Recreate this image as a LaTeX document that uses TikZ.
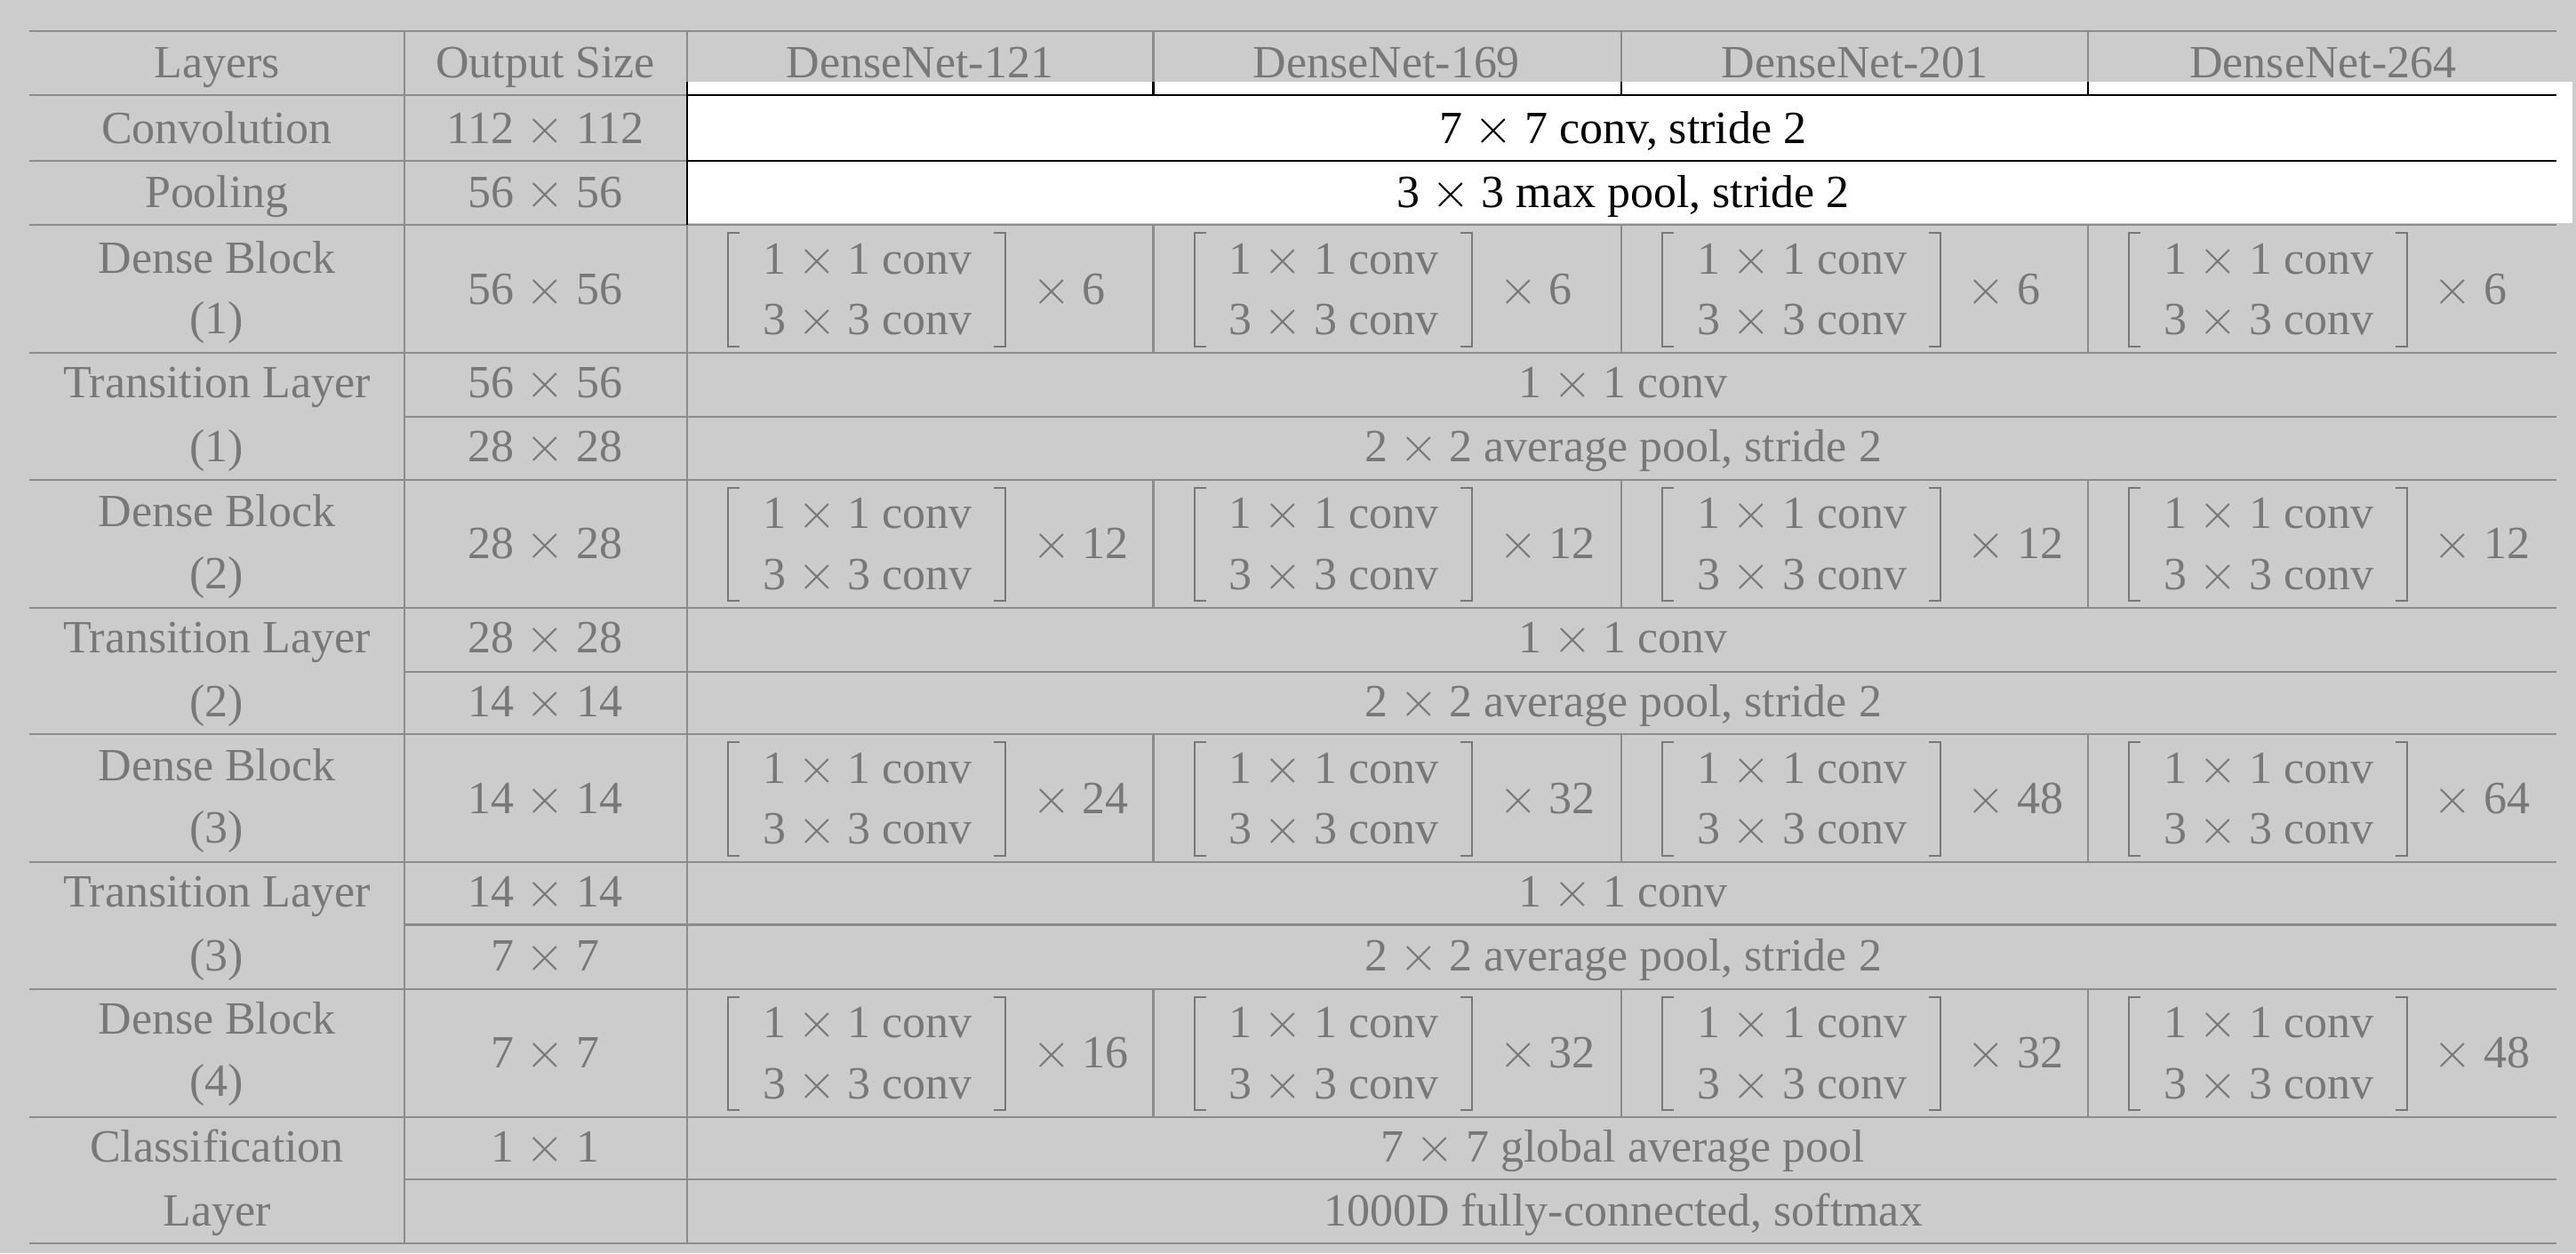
\documentclass[tikz,border=0pt]{standalone}
\usepackage{fontspec}
\setmainfont{Liberation Serif}
\definecolor{bggray}{RGB}{204,204,204}
\definecolor{txtgray}{RGB}{120,120,120}
\definecolor{rulegray}{RGB}{140,140,140}
\newcommand{\tms}{$\times$}

\begin{document}
\begin{tikzpicture}[x=0.02cm,y=-0.02cm]
  \tikzstyle{cell}=[inner sep=0pt,text=txtgray,text height=10.6pt,text depth=0pt,font=\fontsize{16pt}{19pt}\selectfont]
  \tikzstyle{wcell}=[cell,text=black]
  \tikzstyle{rule}=[draw=rulegray,line width=0.65pt]
  \tikzstyle{darkrule}=[draw=black,line width=0.65pt]
  \tikzstyle{brk}=[draw=txtgray,line width=0.6pt]

  \fill[bggray] (0,0) rectangle (1568,763);
  \useasboundingbox (0,0) rectangle (1568,763);
  \fill[white] (418,50) rectangle (1566,136); % white block

  % rules
  \foreach \y in {19,58,98,137,215,292,370,447,525,602,680,757}
    \draw[rule] (18,\y) -- (1556,\y);
  \foreach \y in {254,409,563,718}
    \draw[rule] (246,\y) -- (1556,\y);
  \foreach \x in {246,418}
    \draw[rule] (\x,19) -- (\x,757);
  \foreach \x in {702,987,1271} {
    \draw[rule] (\x,19) -- (\x,50);
    \foreach \ya/\yb in {137/215,292/370,447/525,602/680}
      \draw[rule] (\x,\ya) -- (\x,\yb);
  }
  \draw[darkrule] (418,58) -- (1556,58);
  \draw[darkrule] (418,98) -- (1556,98);
  \draw[darkrule] (418,50) -- (418,137);
  \foreach \x in {702,987,1271}
    \draw[darkrule] (\x,50) -- (\x,58);

  % header
  \node[cell] (hlay) at (132,38) {Layers};
  \node[cell] (hout) at (332,38) {Output Size};
  \foreach \n/\x in {121/560,169/844,201/1129,264/1414}
    \node[cell] (h\n) at (\x,38) {DenseNet-\n};

  % layers column
  \node[cell] (lconv) at (132,78) {Convolution};
  \node[cell] (lpool) at (132,117) {Pooling};
  \foreach \i/\ya/\yb in {1/157/194,2/311/349,3/466/504,4/620/658} {
    \node[cell] (ldb\i) at (132,\ya) {Dense Block};
    \node[cell] (ldb\i n) at (132,\yb) {(\i)};
  }
  \foreach \i/\ya/\yb in {1/233/272,2/388/427,3/543/582} {
    \node[cell] (ltr\i) at (132,\ya) {Transition Layer};
    \node[cell] (ltr\i n) at (132,\yb) {(\i)};
  }
  \node[cell] (lcls) at (132,698) {Classification};
  \node[cell] (lclsb) at (132,737) {Layer};

  % output size column
  \foreach \s/\y [count=\k] in {112/78,56/117,56/176,56/233,28/272,28/331,28/388,14/427,14/486,14/543,7/582,7/641,1/698}
    \node[cell] (out\k) at (332,\y) {\s{} \tms{} \s};

  % rows spanning all four nets
  \node[wcell] (conv) at (988,78) {7 \tms{} 7 conv, stride 2};
  \node[wcell] (pool) at (988,117) {3 \tms{} 3 max pool, stride 2};
  \foreach \i/\ya/\yb in {1/233/272,2/388/427,3/543/582} {
    \node[cell] (tr\i a) at (988,\ya) {1 \tms{} 1 conv};
    \node[cell] (tr\i b) at (988,\yb) {2 \tms{} 2 average pool, stride 2};
  }
  \node[cell] (clsa) at (988,698) {7 \tms{} 7 global average pool};
  \node[cell] (clsb) at (988,737) {1000D fully-connected, softmax};

  % dense blocks
  \foreach \b/\yc/\ma/\mb/\mc/\md in {1/176/6/6/6/6,2/331/12/12/12/12,3/486/24/32/48/64,4/641/16/32/32/48} {
    \foreach \L/\m [count=\k] in {418/\ma,702/\mb,987/\mc,1271/\md} {
      \node[cell] (b\b-\k-top) at (\L+110,\yc-18.5) {1 \tms{} 1 conv};
      \node[cell] (b\b-\k-bot) at (\L+110,\yc+18.5) {3 \tms{} 3 conv};
      \node[cell,anchor=west] (b\b-\k-rep) at (\L+210,\yc) {\tms{} \m};
      \draw[brk] (\L+32,\yc-34) -- (\L+25,\yc-34) -- (\L+25,\yc+35) -- (\L+32,\yc+35);
      \draw[brk] (\L+187,\yc-34) -- (\L+194,\yc-34) -- (\L+194,\yc+35) -- (\L+187,\yc+35);
    }
  }
\end{tikzpicture}
\end{document}
